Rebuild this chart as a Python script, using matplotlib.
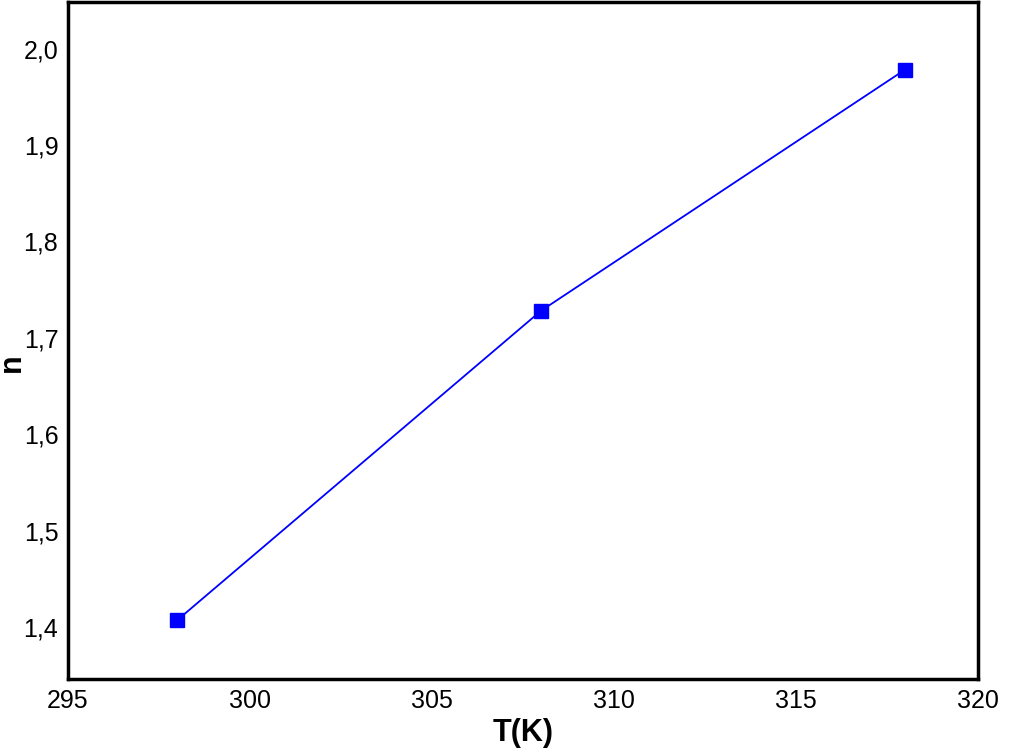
import matplotlib
matplotlib.use("Agg")
import matplotlib.pyplot as plt
from matplotlib.ticker import FuncFormatter

plt.rcParams['font.family'] = ['Liberation Sans', 'DejaVu Sans']

# Dane z wykresu
temperatura = [298, 308, 318]
n_wartosci = [1.407, 1.728, 1.978]
x_ticks = [295, 300, 305, 310, 315, 320]
y_ticks = [1.4, 1.5, 1.6, 1.7, 1.8, 1.9, 2.0]

fig = plt.figure(figsize=(10.1, 7.52), dpi=100)
ax = fig.add_axes([0.0673, 0.097, 0.9007, 0.9])

ax.plot(temperatura, n_wartosci, color='#0000ff', linewidth=1.3,
        marker='s', markersize=10.5, markerfacecolor='#0000ff', markeredgecolor='#0000ff')

ax.set_xlim(295, 320)
ax.set_ylim(1.346, 2.048)
ax.set_xticks(x_ticks)
ax.set_yticks(y_ticks)
ax.yaxis.set_major_formatter(FuncFormatter(lambda v, p: f"{v:.1f}".replace(".", ",")))
ax.tick_params(length=0, labelsize=18, pad=7)

for s in ax.spines.values():
    s.set_linewidth(2.5)

# Opisy osi
ax.set_xlabel("T(K)", fontsize=22, fontweight='bold')
ax.set_ylabel("n", fontsize=22, fontweight='bold')
ax.xaxis.set_label_coords(0.5, -0.058)
ax.yaxis.set_label_coords(-0.045, 0.468)

fig.savefig("out.png", dpi=100)
